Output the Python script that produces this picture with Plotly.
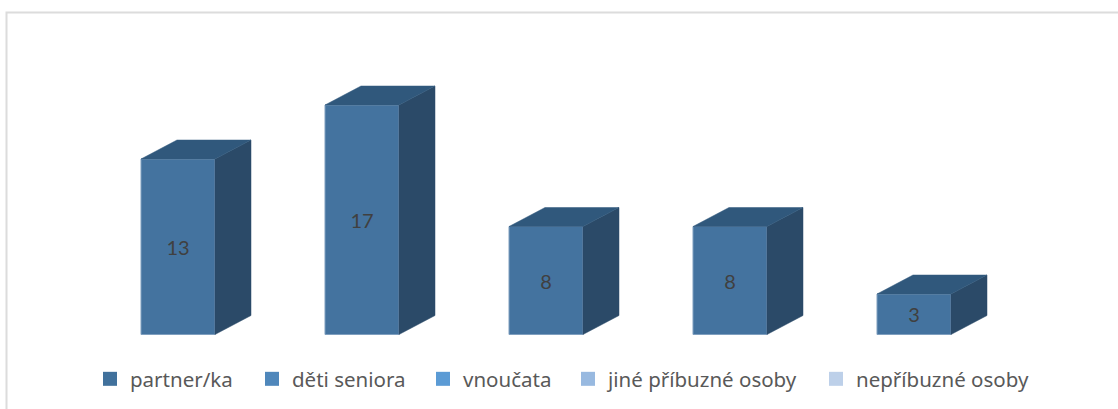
import plotly.graph_objects as go

categories = ["partner/ka", "děti seniora", "vnoučata", "jiné příbuzné osoby", "nepříbuzné osoby"]
values = [13, 17, 8, 8, 3]
legend_colors = ["#41719c", "#4f87bb", "#5b9bd5", "#98b9e0", "#bdd0e9"]

W, H = 1118, 409
FRONT, TOP, SIDE = "#44739f", "#30587c", "#2b4a68"
STEP_PX, UNIT_PX = 184, 13.5
X0_PX, BASE_PX = 178, 334.5
BAR_W = 74 / STEP_PX
DX, DY = 36 / STEP_PX, 19 / UNIT_PX
LEGEND_X = [90, 252, 423, 568, 816]

fig = go.Figure()
for i, v in enumerate(values):
    l, r = i - BAR_W / 2, i + BAR_W / 2
    fig.add_trace(go.Scatter(x=[r, r + DX, r + DX, r, r], y=[0, DY, v + DY, v, 0], mode="lines",
                             fill="toself", fillcolor=SIDE, line=dict(color=SIDE, width=0.5),
                             hoverinfo="skip", showlegend=False))
    fig.add_trace(go.Scatter(x=[l, r, r + DX, l + DX, l], y=[v, v, v + DY, v + DY, v], mode="lines",
                             fill="toself", fillcolor=TOP, line=dict(color=TOP, width=0.5),
                             hoverinfo="skip", showlegend=False))
fig.add_trace(go.Bar(x=list(range(len(values))), y=values, width=BAR_W, marker=dict(color=FRONT, line=dict(color="#7f9fbf", width=1)),
                     text=values, textposition="inside", insidetextanchor="middle", textangle=0,
                     textfont=dict(family="Lato", size=20, color="#404040"),
                     customdata=categories, hovertemplate="%{customdata}: %{y}<extra></extra>", showlegend=False))

layout_legends = {}
for i, (name, color) in enumerate(zip(categories, legend_colors)):
    key = "legend" if i == 0 else f"legend{i + 1}"
    fig.add_trace(go.Scatter(x=[None], y=[None], mode="markers", name=name, legend=key,
                             marker=dict(symbol="square", size=14, color=color), showlegend=True))
    layout_legends[key] = dict(x=LEGEND_X[i] / W, y=1 - 379 / H, xanchor="left", yanchor="middle",
                               bgcolor="rgba(0,0,0,0)", font=dict(family="Noto Sans", size=20.5, color="#595959"),
                               itemclick=False, itemdoubleclick=False)

fig.update_layout(
    width=W, height=H, margin=dict(l=0, r=0, t=0, b=0), paper_bgcolor="white", plot_bgcolor="white",
    xaxis=dict(visible=False, range=[-X0_PX / STEP_PX, (W - X0_PX) / STEP_PX], fixedrange=True),
    yaxis=dict(visible=False, range=[-(H - BASE_PX) / UNIT_PX, BASE_PX / UNIT_PX], fixedrange=True),
    shapes=[dict(type="rect", xref="paper", yref="paper", x0=6.5 / W, x1=1.05, y0=-0.05, y1=1 - 12.5 / H,
                 line=dict(color="#dcdcdc", width=2), fillcolor="rgba(0,0,0,0)", layer="below")],
    **layout_legends,
)
fig.write_html("out.html", config=dict(displayModeBar=False),
               post_script="document.body.style.margin='0';document.documentElement.style.overflow='hidden';")
